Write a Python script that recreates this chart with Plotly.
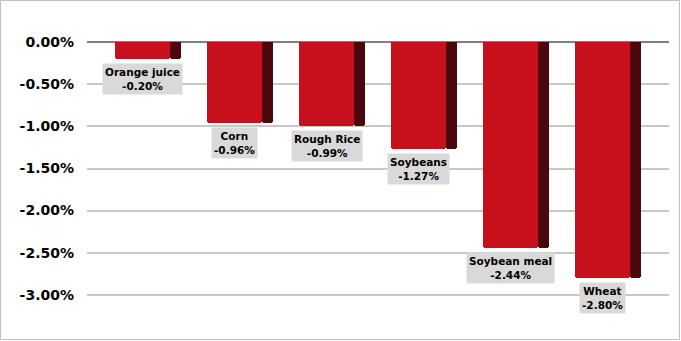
import plotly.graph_objects as go

categories = ["Orange juice", "Corn", "Rough Rice", "Soybeans", "Soybean meal", "Wheat"]
values = [-0.20, -0.96, -0.99, -1.27, -2.44, -2.80]
tick_vals = [0.0, -0.5, -1.0, -1.5, -2.0, -2.5, -3.0]
tick_text = ["0.00%", "-0.50%", "-1.00%", "-1.50%", "-2.00%", "-2.50%", "-3.00%"]

W, H = 681, 341
ML, MR, MT, MB = 87, 12, 17, 21
xs = list(range(len(categories)))

fig = go.Figure()
# side (dark 3D face)
fig.add_trace(go.Bar(
    x=xs, y=values, width=0.12, offset=0.24,
    marker=dict(color="#4A080D", line=dict(width=0), cornerradius=3),
    hoverinfo="skip", showlegend=False,
))
# front face
fig.add_trace(go.Bar(
    x=xs, y=values, width=0.6, offset=-0.354,
    marker=dict(color="#C8101D", line=dict(width=0), cornerradius=3),
    showlegend=False,
))

for i, (c, v) in enumerate(zip(categories, values)):
    fig.add_annotation(
        x=i - 0.054, y=v, xref="x", yref="y",
        text=f"<b>{c}</b><br><b>{v:.2f}%</b>",
        showarrow=False, yanchor="top", xanchor="center", yshift=-4,
        bgcolor="#D9D9D9", borderpad=2,
        font=dict(family="DejaVu Sans", size=10.5, color="#000000"),
    )

pw = W - ML - MR
ph = H - MT - MB
fig.add_shape(type="rect", xref="paper", yref="paper",
              x0=-(ML - 0.5) / pw, x1=1 + (MR - 1.5) / pw,
              y0=-(MB - 1.5) / ph, y1=1 + (MT - 0.5) / ph,
              line=dict(color="#BFBFBF", width=1), layer="below")

fig.update_layout(
    width=W, height=H,
    margin=dict(l=ML, r=MR, t=MT, b=MB),
    paper_bgcolor="white", plot_bgcolor="white",
    barmode="overlay", bargap=0,
    xaxis=dict(range=[-0.658, 5.668], showticklabels=False, showgrid=False,
               zeroline=False, showline=False, fixedrange=True),
    yaxis=dict(range=[-3.3, 0.3], tickvals=tick_vals, ticktext=tick_text,
               showgrid=True, gridcolor="#C8C8C8", gridwidth=1.5,
               zeroline=True, zerolinecolor="#808080", zerolinewidth=2,
               showline=False, ticks="", ticklabelstandoff=12,
               tickfont=dict(family="DejaVu Sans", size=14, color="#000000", weight="bold")),
    font=dict(family="DejaVu Sans"),
)

fig.write_html("out.html")
